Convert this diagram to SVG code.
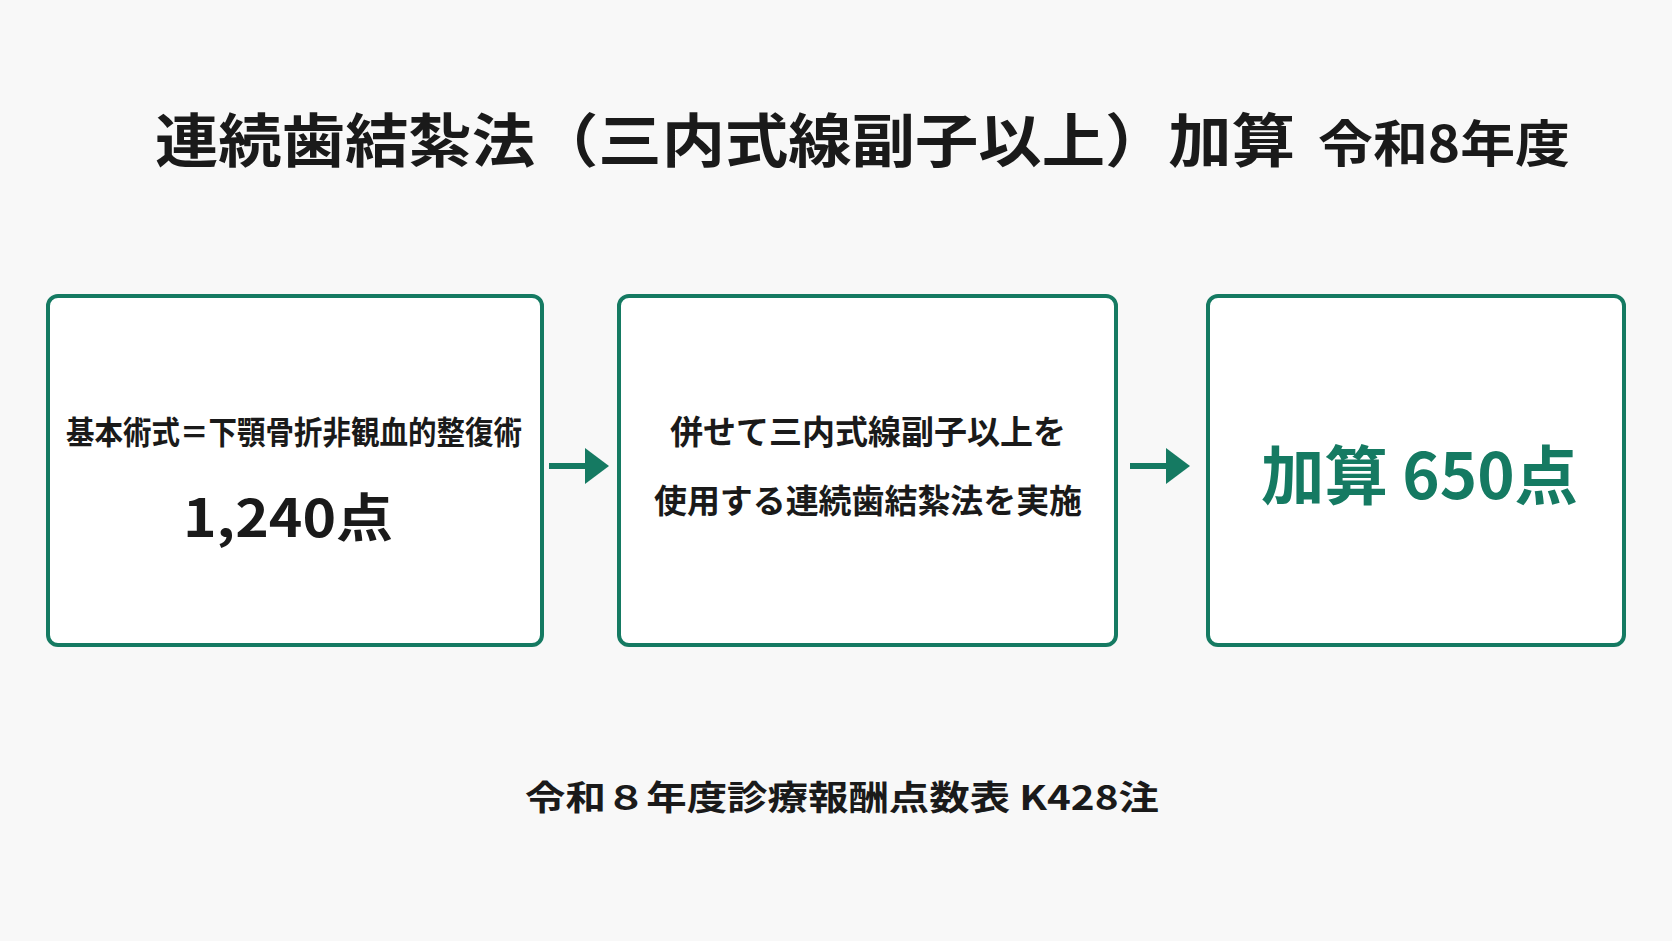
<svg xmlns="http://www.w3.org/2000/svg" width="1672" height="941" viewBox="0 0 1672 941">
<style>
text{font-family:"Noto Sans CJK JP","Noto Sans",sans-serif;font-weight:bold;fill:#1a1a1a}
.box{fill:#fff;stroke:#157a62;stroke-width:4}
.g{fill:#157a62}
.c{stroke:#157a62;stroke-width:6;fill:none}
</style>
<defs><marker id="ah" markerWidth="6" markerHeight="6" refX="2" refY="3" orient="auto" markerUnits="strokeWidth"><path d="M0,0L4,3L0,6z" fill="#157a62"/></marker></defs>
<rect width="1672" height="941" fill="#f8f8f8"/>
<text x="155" y="162" font-size="58" textLength="1140" lengthAdjust="spacingAndGlyphs">連続歯結紮法（三内式線副子以上）加算</text>
<text x="1318" y="162" font-size="50" textLength="252" lengthAdjust="spacingAndGlyphs">令和8年度</text>
<g id="connectors">
<line class="c" x1="549" y1="466" x2="597" y2="466" marker-end="url(#ah)"/>
<line class="c" x1="1130" y1="466" x2="1178" y2="466" marker-end="url(#ah)"/>
</g>
<g id="n1"><rect class="box" x="48" y="296" width="494" height="349" rx="10"/>
<text x="66" y="444" font-size="32" textLength="456" lengthAdjust="spacingAndGlyphs">基本術式＝下顎骨折非観血的整復術</text>
<text x="183" y="537" font-size="52" textLength="210" lengthAdjust="spacingAndGlyphs">1,240点</text></g>
<g id="n2"><rect class="box" x="619" y="296" width="497" height="349" rx="10"/>
<text x="670" y="444" font-size="33" textLength="396" lengthAdjust="spacingAndGlyphs">併せて三内式線副子以上を</text>
<text x="654" y="513" font-size="33" textLength="428" lengthAdjust="spacingAndGlyphs">使用する連続歯結紮法を実施</text></g>
<g id="n3"><rect class="box" x="1208" y="296" width="416" height="349" rx="10"/>
<text class="g" x="1261" y="499" font-size="64" textLength="317" lengthAdjust="spacingAndGlyphs">加算 650点</text></g>
<text x="525" y="810" font-size="34" textLength="634" lengthAdjust="spacingAndGlyphs">令和８年度診療報酬点数表 K428注</text>
</svg>
